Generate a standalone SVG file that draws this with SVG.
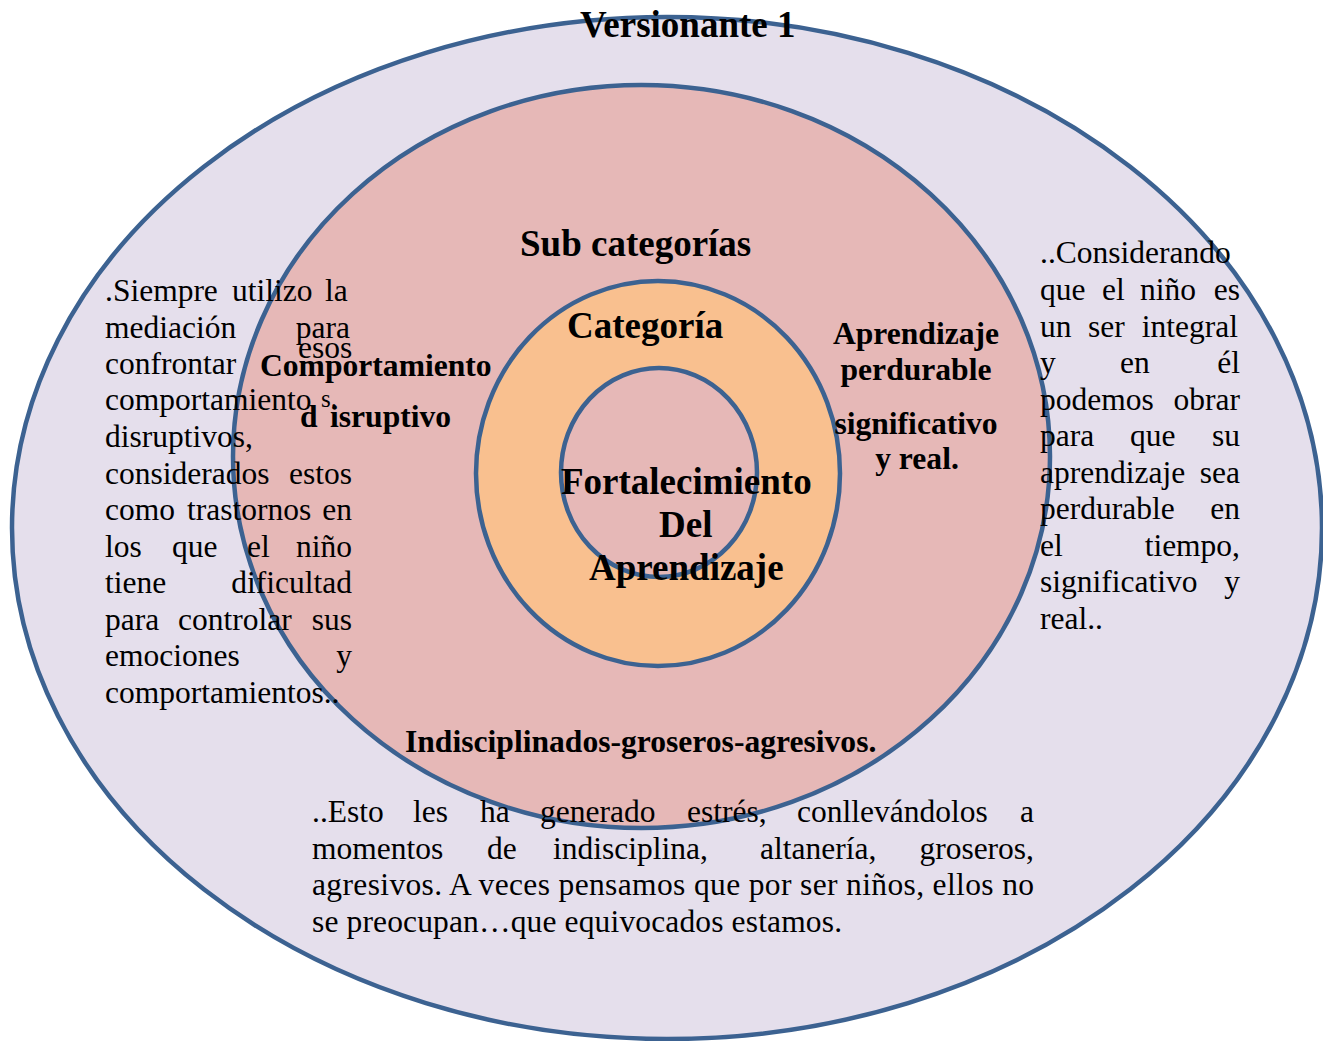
<svg xmlns="http://www.w3.org/2000/svg" width="1323" height="1041" viewBox="0 0 1323 1041">
<style>
.ring{stroke:#3c6291;stroke-width:4.5}
.t{font-family:"Liberation Serif","Times New Roman",serif;font-size:31.5px;fill:#000}
.b{font-family:"Liberation Serif","Times New Roman",serif;font-weight:bold;font-size:31.6px;fill:#000}
.h{font-family:"Liberation Serif","Times New Roman",serif;font-weight:bold;font-size:37px;fill:#000}
.e{text-anchor:end}
.m{text-anchor:middle}
</style>
<rect width="1323" height="1041" fill="#ffffff"/>
<g id="outer-ellipse"><ellipse class="ring" cx="667" cy="528" rx="655" ry="511" fill="#e5dfec"/></g>
<g id="subcategory-ellipse"><ellipse class="ring" cx="641.5" cy="456.5" rx="408.5" ry="371.5" fill="#e6b8b7"/></g>
<g id="category-circle"><ellipse class="ring" cx="658" cy="473.5" rx="182" ry="192.5" fill="#f9c08f"/></g>
<g id="core-circle"><ellipse class="ring" cx="659" cy="472.5" rx="98" ry="104.5" fill="#e6b8b7"/></g>
<g id="connectors"></g>

<g id="title"><text class="h" x="580" y="37">Versionante 1</text></g>
<g id="label-subcategorias"><text class="h" x="520" y="256">Sub categorías</text></g>
<g id="label-categoria"><text class="h" x="567" y="338">Categoría</text></g>
<g id="label-core">
<text class="h" x="561" y="494">Fortalecimiento</text>
<text class="h" x="659" y="537">Del</text>
<text class="h" x="589" y="580">Aprendizaje</text>
</g>

<g id="left-text">
<text class="t" y="301"><tspan x="105">.Siempre</tspan><tspan x="232">utilizo</tspan><tspan x="325">la</tspan></text>
<text class="t" y="337.5"><tspan x="105">mediación</tspan><tspan x="350" class="e">para</tspan></text>
<text class="t" y="374"><tspan x="105">confrontar</tspan></text>
<text class="t" x="298" y="358">esos</text>
<text class="t" y="410"><tspan x="105">comportamiento</tspan></text>
<text class="t" x="321" y="407" style="font-size:25px">s.</text>
<text class="t" x="105" y="447">disruptivos,</text>
<text class="t" y="483.5"><tspan x="105">considerados</tspan><tspan x="352" class="e">estos</tspan></text>
<text class="t" y="520"><tspan x="105">como</tspan><tspan x="187">trastornos</tspan><tspan x="352" class="e">en</tspan></text>
<text class="t" y="556.5"><tspan x="105">los</tspan><tspan x="172">que</tspan><tspan x="247">el</tspan><tspan x="352" class="e">niño</tspan></text>
<text class="t" y="593"><tspan x="105">tiene</tspan><tspan x="352" class="e">dificultad</tspan></text>
<text class="t" y="629.5"><tspan x="105">para</tspan><tspan x="178">controlar</tspan><tspan x="352" class="e">sus</tspan></text>
<text class="t" y="666"><tspan x="105">emociones</tspan><tspan x="352" class="e">y</tspan></text>
<text class="t" x="105" y="702.5">comportamientos..</text>
</g>

<g id="label-comportamiento">
<text class="b" x="260" y="376">Comportamiento</text>
<text class="b" x="300" y="427">d</text>
<text class="b" x="330" y="427">isruptivo</text>
</g>

<g id="label-aprendizaje">
<text class="b m" x="916" y="344">Aprendizaje</text>
<text class="b m" x="916" y="380">perdurable</text>
<text class="b m" x="916" y="434">significativo</text>
<text class="b m" x="917" y="469">y real.</text>
</g>

<g id="right-text">
<text class="t" x="1040" y="263">..Considerando</text>
<text class="t" y="300"><tspan x="1040">que</tspan><tspan x="1102">el</tspan><tspan x="1140">niño</tspan><tspan x="1240" class="e">es</tspan></text>
<text class="t" y="336.5"><tspan x="1040">un</tspan><tspan x="1088">ser</tspan><tspan x="1238" class="e">integral</tspan></text>
<text class="t" y="373"><tspan x="1040">y</tspan><tspan x="1120">en</tspan><tspan x="1240" class="e">él</tspan></text>
<text class="t" y="409.5"><tspan x="1040">podemos</tspan><tspan x="1240" class="e">obrar</tspan></text>
<text class="t" y="446"><tspan x="1040">para</tspan><tspan x="1130">que</tspan><tspan x="1240" class="e">su</tspan></text>
<text class="t" y="482.5"><tspan x="1040">aprendizaje</tspan><tspan x="1240" class="e">sea</tspan></text>
<text class="t" y="519"><tspan x="1040">perdurable</tspan><tspan x="1240" class="e">en</tspan></text>
<text class="t" y="555.5"><tspan x="1040">el</tspan><tspan x="1240" class="e">tiempo,</tspan></text>
<text class="t" y="592"><tspan x="1040">significativo</tspan><tspan x="1240" class="e">y</tspan></text>
<text class="t" x="1040" y="629">real..</text>
</g>

<g id="label-indisciplinados"><text class="b" x="405" y="752">Indisciplinados-groseros-agresivos.</text></g>

<g id="bottom-text">
<text class="t" y="822"><tspan x="312">..Esto</tspan><tspan x="413">les</tspan><tspan x="480">ha</tspan><tspan x="540">generado</tspan><tspan x="687">estrés,</tspan><tspan x="797">conllevándolos</tspan><tspan x="1034" class="e">a</tspan></text>
<text class="t" y="858.5"><tspan x="312">momentos</tspan><tspan x="487">de</tspan><tspan x="553">indisciplina,</tspan><tspan x="760">altanería,</tspan><tspan x="1034" class="e">groseros,</tspan></text>
<text class="t" x="312" y="895" textLength="722" lengthAdjust="spacing">agresivos. A veces pensamos que por ser niños, ellos no</text>
<text class="t" x="312" y="931.5" textLength="530" lengthAdjust="spacing">se preocupan…que equivocados estamos.</text>
</g>
</svg>
